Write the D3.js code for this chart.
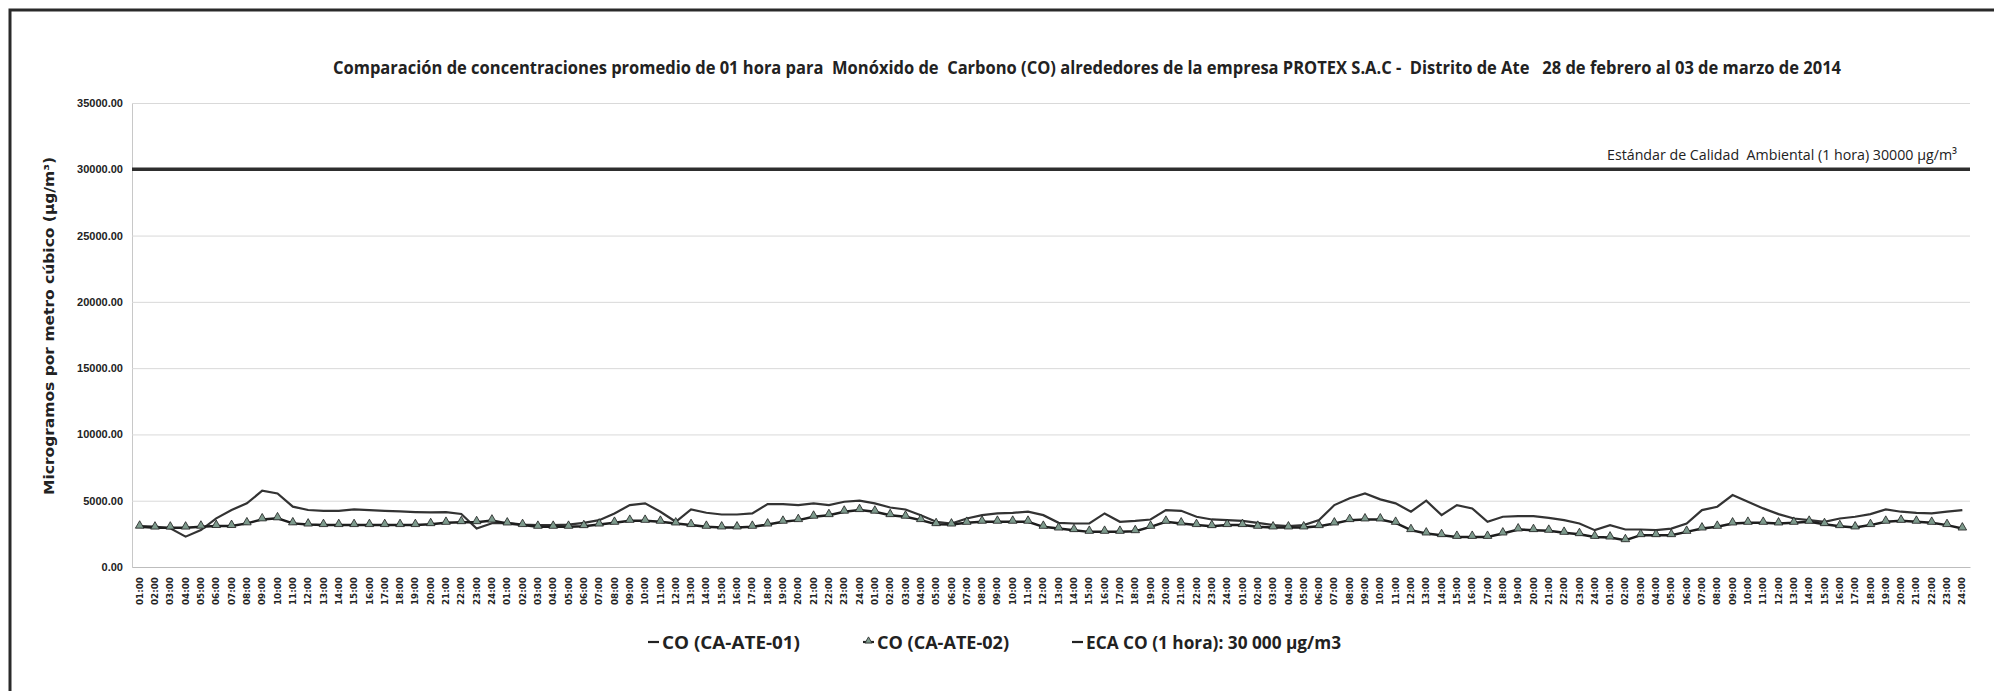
<!DOCTYPE html>
<html>
<head>
<meta charset="utf-8">
<script src="https://d3js.org/d3.v7.min.js"></script>
<style>
  body { margin: 0; background: #fff; }
</style>
</head>
<body>
<div id="chart"></div>
<script>
// hour labels of one day (the chart shows 5 days of hourly averages)
var hours = ["01:00","02:00","03:00","04:00","05:00","06:00","07:00","08:00","09:00","10:00","11:00","12:00",
             "13:00","14:00","15:00","16:00","17:00","18:00","19:00","20:00","21:00","22:00","23:00","24:00"];
var labels = [].concat(hours, hours, hours, hours, hours);

// CO (CA-ATE-01), µg/m3
var co01 = [
  3090, 3040, 2920, 2290, 2790, 3670, 4300, 4800, 5750, 5550, 4550, 4300, 4240, 4240, 4340, 4290, 4240, 4190, 4140, 4115, 4140, 4000, 2900, 3300,
  3330, 3200, 3160, 3160, 3200, 3330, 3535, 4040, 4670, 4800, 4170, 3410, 4340, 4090, 3960, 3960, 4040, 4750, 4750, 4670, 4800, 4670, 4920, 5000,
  4800, 4490, 4340, 3910, 3410, 3280, 3660, 3910, 4040, 4090, 4170, 3910, 3330, 3280, 3280, 4040, 3410, 3480, 3585, 4290, 4240, 3790, 3585, 3535,
  3480, 3330, 3160, 3080, 3160, 3535, 4670, 5180, 5555, 5100, 4800, 4170, 5000, 3910, 4670, 4420, 3410, 3790, 3840, 3840, 3710, 3535, 3280, 2780,
  3160, 2830, 2830, 2780, 2900, 3280, 4290, 4545, 5430, 4920, 4420, 3990, 3660, 3535, 3410, 3660, 3790, 3990, 4340, 4170, 4090, 4040, 4170, 4290
];
// CO (CA-ATE-02), µg/m3
var co02 = [
  3040, 2970, 2970, 2970, 3040, 3090, 3090, 3290, 3590, 3670, 3290, 3200, 3160, 3160, 3160, 3160, 3160, 3160, 3160, 3230, 3330, 3380, 3380, 3500,
  3280, 3160, 3030, 3030, 3030, 3080, 3200, 3330, 3480, 3480, 3410, 3280, 3160, 3030, 2980, 2980, 3030, 3200, 3410, 3535, 3790, 3910, 4170, 4290,
  4170, 3910, 3790, 3535, 3230, 3200, 3330, 3410, 3410, 3410, 3410, 3030, 2900, 2780, 2650, 2650, 2650, 2700, 3030, 3410, 3280, 3160, 3080, 3160,
  3160, 3030, 2980, 2980, 2980, 3080, 3280, 3535, 3585, 3585, 3330, 2780, 2525, 2400, 2270, 2270, 2270, 2525, 2830, 2780, 2730, 2575, 2475, 2270,
  2220, 2020, 2400, 2400, 2400, 2650, 2900, 3030, 3280, 3330, 3330, 3280, 3330, 3410, 3230, 3080, 2980, 3160, 3410, 3480, 3410, 3330, 3160, 2900
];
// ECA CO (1 hora)
var eca = 30000;
var yTicks = [0, 5000, 10000, 15000, 20000, 25000, 30000, 35000];

var title = "Comparación de concentraciones promedio de 01 hora para\u00a0 Monóxido de\u00a0 Carbono (CO) alrededores de la empresa PROTEX S.A.C -\u00a0 Distrito de Ate\u00a0\u00a0 28 de febrero al 03 de marzo de 2014";

// set the dimensions and margins of the graph
var W = 1994, H = 691;
var margin = {top: 103, right: 24, bottom: 124, left: 132},
    width = W - margin.left - margin.right,
    height = H - margin.top - margin.bottom;

var root = d3.select("#chart")
  .append("svg")
    .attr("width", W)
    .attr("height", H)
    .style("font-family", "'Open Sans', 'Noto Sans', sans-serif");

// squeeze text to the width it has in the picture
function fit(sel, w) {
  sel.attr("textLength", w).attr("lengthAdjust", "spacingAndGlyphs");
}

// frame of the scanned page
root.append("path")
  .attr("d", "M10," + H + "V10H" + W)
  .attr("fill", "none")
  .attr("stroke", "#2a2a2a")
  .attr("stroke-width", 3);

root.append("text")
  .attr("x", 333).attr("y", 74)
  .attr("font-size", 17.5)
  .attr("font-weight", "bold")
  .attr("fill", "#222")
  .text(title)
  .call(fit, 1508);

var svg = root.append("g")
  .attr("transform", "translate(" + margin.left + "," + margin.top + ")");

var x = d3.scaleBand()
  .domain(d3.range(labels.length))
  .range([0, width]);
var cx = function(i) { return x(i) + x.bandwidth() / 2; };

var y = d3.scaleLinear()
  .domain([0, 35000])
  .range([height, 0]);

// Y axis with grid lines
var yAxis = svg.append("g")
  .call(d3.axisLeft(y).tickValues(yTicks).tickSize(-width).tickPadding(9).tickFormat(d3.format(".2f")));
yAxis.select(".domain").attr("stroke", "#c8c8c8");
yAxis.selectAll(".tick line").attr("stroke", "#d9d9d9").attr("stroke-width", 1);
yAxis.selectAll(".tick text")
  .attr("font-family", "'Liberation Sans', Arial, sans-serif")
  .attr("font-size", 11)
  .attr("font-weight", "bold")
  .attr("fill", "#222");

// X axis, hour labels standing up
var xAxis = svg.append("g")
  .attr("transform", "translate(0," + height + ")")
  .call(d3.axisBottom(x).tickSize(0).tickFormat(function(i) { return labels[i]; }));
xAxis.select(".domain").attr("stroke", "#bdbdbd");
xAxis.selectAll(".tick text")
  .attr("transform", "rotate(-90)")
  .attr("text-anchor", "end")
  .attr("x", -10)
  .attr("y", 0)
  .attr("dy", "0.35em")
  .attr("font-family", "'DejaVu Sans', Verdana, sans-serif")
  .attr("font-size", 8.8)
  .attr("font-weight", "bold")
  .attr("fill", "#222");

svg.append("text")
  .attr("transform", "translate(" + (54 - margin.left) + "," + (326 - margin.top) + ") rotate(-90)")
  .attr("text-anchor", "middle")
  .attr("font-family", "'DejaVu Sans', Verdana, sans-serif")
  .attr("font-size", 13.5)
  .attr("font-weight", "bold")
  .attr("fill", "#222")
  .text("Microgramos por metro cúbico (µg/m³)")
  .call(fit, 338);

// ECA line
svg.append("line")
  .attr("x1", 0).attr("x2", width)
  .attr("y1", y(eca)).attr("y2", y(eca))
  .attr("stroke", "#2e2e2e")
  .attr("stroke-width", 3.5);

svg.append("text")
  .attr("x", 1957 - margin.left)
  .attr("y", y(eca) - 9)
  .attr("text-anchor", "end")
  .attr("font-size", 14.5)
  .attr("fill", "#222")
  .text("Estándar de Calidad\u00a0 Ambiental (1 hora) 30000 µg/m³")
  .call(fit, 350);

var line = d3.line()
  .x(function(d, i) { return cx(i); })
  .y(function(d) { return y(d); });

// CO (CA-ATE-01)
svg.append("path")
  .datum(co01)
  .attr("fill", "none")
  .attr("stroke", "#333")
  .attr("stroke-width", 2.2)
  .attr("d", line);

// CO (CA-ATE-02) with triangles
svg.append("path")
  .datum(co02)
  .attr("fill", "none")
  .attr("stroke", "#1e1e1e")
  .attr("stroke-width", 2.5)
  .attr("d", line);

var tri = d3.symbol().type(d3.symbolTriangle).size(32);
svg.selectAll(".tri")
  .data(co02)
  .enter().append("path")
    .attr("class", "tri")
    .attr("transform", function(d, i) { return "translate(" + cx(i) + "," + (y(d) - 1) + ")"; })
    .attr("d", tri)
    .attr("fill", "#7d9a8c")
    .attr("stroke", "#1e1e1e")
    .attr("stroke-width", 0.8);

// legend
var legend = root.append("g").attr("transform", "translate(0,642)");
var items = [
  {name: "CO (CA-ATE-01)", x: 648, w: 138, mark: "line"},
  {name: "CO (CA-ATE-02)", x: 863, w: 132, mark: "tri"},
  {name: "ECA CO (1 hora): 30 000 µg/m3", x: 1072, w: 255, mark: "line"}
];
items.forEach(function(it) {
  legend.append("line")
    .attr("x1", it.x).attr("x2", it.x + 11)
    .attr("y1", 0).attr("y2", 0)
    .attr("stroke", "#222")
    .attr("stroke-width", 2.2);
  if (it.mark == "tri") {
    legend.append("path")
      .attr("transform", "translate(" + (it.x + 5.5) + ",-1)")
      .attr("d", d3.symbol().type(d3.symbolTriangle).size(22))
      .attr("fill", "#7d9a8c")
      .attr("stroke", "#222")
      .attr("stroke-width", 0.8);
  }
  legend.append("text")
    .attr("x", it.x + 14)
    .attr("y", 6.5)
    .attr("font-size", 17.5)
    .attr("font-weight", "bold")
    .attr("fill", "#222")
    .text(it.name)
    .call(fit, it.w);
});
</script>
</body>
</html>
